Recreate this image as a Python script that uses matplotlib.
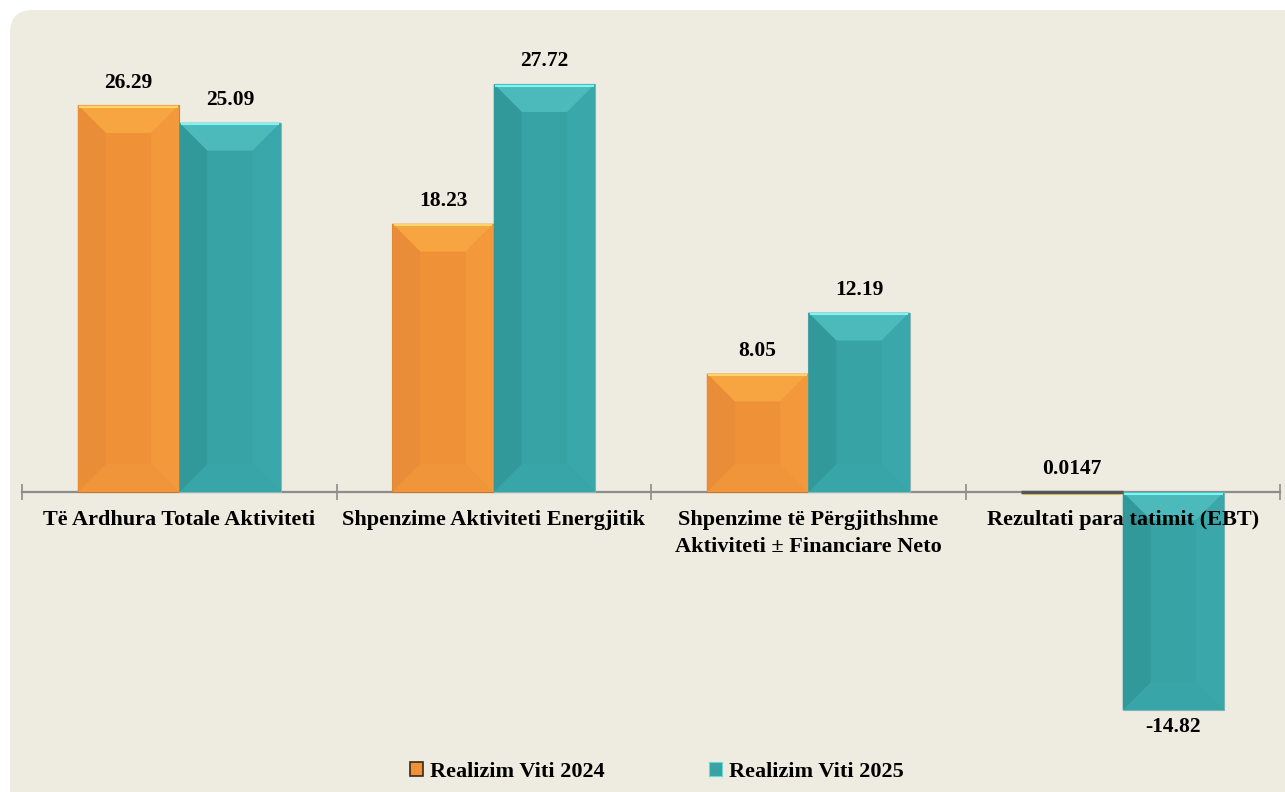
import numpy as np
import matplotlib
matplotlib.use("Agg")
from matplotlib import pyplot as plt
from matplotlib.patches import FancyBboxPatch, Polygon, Patch

categories = ["Të Ardhura Totale Aktiviteti",
              "Shpenzime Aktiviteti Energjitik",
              "Shpenzime të Përgjithshme\nAktiviteti ± Financiare Neto",
              "Rezultati para tatimit (EBT)"]
v2024 = [26.29, 18.23, 8.05, 0.0147]
v2025 = [25.09, 27.72, 12.19, -14.82]
lab2024 = ["26.29", "18.23", "8.05", "0.0147"]
lab2025 = ["25.09", "27.72", "12.19", "-14.82"]
series_names = ["Realizim Viti 2024", "Realizim Viti 2025"]

# face, top, highlight, left, right, bottom
orange = ["#EF9237", "#F6A540", "#FFD468", "#E98D38", "#F3983B", "#F1953B"]
teal = ["#37A3A5", "#4CB9BB", "#7EF4F4", "#32999B", "#3AA8AA", "#38A6A8"]

plt.rcParams['font.family'] = ['Liberation Serif', 'DejaVu Serif']
plt.rcParams['font.weight'] = 'bold'

W, H = 1285, 792
fig = plt.figure(figsize=(W / 100, H / 100), dpi=100)
fig.patch.set_facecolor("white")
bg = FancyBboxPatch((10 / W, -0.05), 1.05, 1 - 10 / H + 0.05,
                    boxstyle="round,pad=0,rounding_size=0.018",
                    transform=fig.transFigure, facecolor="#EEEBE0",
                    edgecolor="none", zorder=-10, mutation_aspect=W / H)
fig.patches.append(bg)

ymin, ymax = -17, 30
pxu = 14.72
zero_px = 492
top_px = zero_px - ymax * pxu
bot_px = zero_px - ymin * pxu
ax = fig.add_axes([22 / W, 1 - bot_px / H, 1258 / W, (bot_px - top_px) / H])
ax.set_facecolor("none")
ax.set_xlim(0, 4)
ax.set_ylim(ymin, ymax)

x = np.arange(4) + 0.5
bw = 1 / 3.1


def bevel(bars, cols):
    for b in bars:
        x0, y0 = b.get_x(), b.get_y()
        w, h = b.get_width(), b.get_height()
        x1 = x0 + w
        lo, hi = min(y0, y0 + h), max(y0, y0 + h)
        dx = min(28 / 314.5, w / 2)
        dy = min(28 / pxu, (hi - lo) / 2)
        polys = [
            ([(x0, hi), (x1, hi), (x1 - dx, hi - dy), (x0 + dx, hi - dy)], cols[1]),
            ([(x0, lo), (x1, lo), (x1 - dx, lo + dy), (x0 + dx, lo + dy)], cols[5]),
            ([(x0, lo), (x0, hi), (x0 + dx, hi - dy), (x0 + dx, lo + dy)], cols[3]),
            ([(x1, lo), (x1, hi), (x1 - dx, hi - dy), (x1 - dx, lo + dy)], cols[4]),
        ]
        for pts, c in polys:
            ax.add_patch(Polygon(pts, closed=True, facecolor=c, edgecolor="none", zorder=3))
        ax.plot([x0 + 0.004, x1 - 0.004], [hi - 0.12, hi - 0.12], color=cols[2],
                lw=1.5, zorder=4, solid_capstyle="butt")


b1 = ax.bar(x - bw / 2, v2024, bw, color=orange[0], edgecolor="#C47A30", lw=0.8, zorder=2)
b2 = ax.bar(x + bw / 2, v2025, bw, color=teal[0], edgecolor="#8FB5B5", lw=0.8, zorder=2)
bevel(b1, orange)
bevel(b2, teal)
# the near-zero bar shows up as a dark rule on the axis
ax.hlines(v2024[3], x[3] - bw, x[3], color="#555555", lw=2.5, zorder=5)

for xi, v, s in zip(x - bw / 2, v2024, lab2024):
    ax.annotate(s, (xi, v), xytext=(0, 9 if v >= 0 else -10), textcoords="offset points",
                ha="center", va="bottom" if v >= 0 else "top", fontsize=15.5, zorder=6)
for xi, v, s in zip(x + bw / 2, v2025, lab2025):
    ax.annotate(s, (xi, v), xytext=(0, 9 if v >= 0 else -5), textcoords="offset points",
                ha="center", va="bottom" if v >= 0 else "top", fontsize=15.5, zorder=6)

for sp in ["top", "right", "left"]:
    ax.spines[sp].set_visible(False)
ax.spines["bottom"].set_position(("data", 0))
ax.spines["bottom"].set_color("#8C8C8C")
ax.spines["bottom"].set_linewidth(1.6)
ax.spines["bottom"].set_zorder(1)
ax.xaxis.set_zorder(8)
ax.set_yticks([])
ax.set_xticks([0, 1, 2, 3, 4])
ax.set_xticklabels([])
ax.tick_params(axis="x", which="major", direction="inout", length=11,
               width=1.2, color="#8C8C8C")
ax.set_xticks(x, minor=True)
ax.set_xticklabels(categories, minor=True, fontsize=16, linespacing=1.45)
ax.tick_params(axis="x", which="minor", length=0, pad=13)

handles = [Patch(facecolor=orange[0], edgecolor="#3a2a1a", lw=1.2),
           Patch(facecolor=teal[0], edgecolor="#6cd8d8", lw=0.8)]
fig.legend(handles, series_names, loc="center", ncol=2,
           bbox_to_anchor=(0.511, 1 - 772 / H), frameon=False, fontsize=16,
           handlelength=0.6, handleheight=0.6, handletextpad=0.3, columnspacing=4.7)

fig.savefig("out.png", dpi=100, facecolor=fig.get_facecolor())
